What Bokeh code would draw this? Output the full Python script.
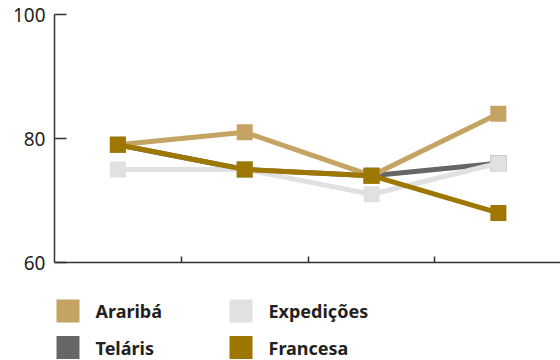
from bokeh.plotting import figure
from bokeh.layouts import column
from bokeh.models import Range1d, FixedTicker, ColumnDataSource
from bokeh.core.properties import value
from bokeh.embed import file_html
from bokeh.resources import INLINE

# ---- data ----
positions = [1, 2, 3, 4]
series_names = ["Araribá", "Expedições", "Teláris", "Francesa"]
arariba = [79, 81, 74, 84]
expedicoes = [75, 75, 71, 76]
telaris = [79, 75, 74, 76]
francesa = [79, 75, 74, 68]
y_ticks = [60, 80, 100]

colors = {
    "Araribá": "#c5a463",
    "Expedições": "#e0e1e3",
    "Teláris": "#666666",
    "Francesa": "#9e7700",
}
values = {
    "Araribá": arariba,
    "Expedições": expedicoes,
    "Teláris": telaris,
    "Francesa": francesa,
}

TEXT = "#231f20"
FONT = "Noto Sans"

p = figure(width=560, height=274, output_backend="svg", toolbar_location=None,
           x_range=Range1d(0.5, 4.49), y_range=Range1d(60, 100),
           min_border_left=54, min_border_top=14, min_border_bottom=12,
           min_border_right=0)
p.outline_line_color = None
p.xgrid.visible = False
p.ygrid.visible = False
p.background_fill_color = "white"
p.border_fill_color = "white"

# draw order: Teláris, Expedições, Araribá, Francesa
for name in ["Teláris", "Expedições", "Araribá", "Francesa"]:
    src = ColumnDataSource(dict(x=positions, y=values[name]))
    p.line("x", "y", source=src, line_color=colors[name], line_width=5)
    p.scatter("x", "y", source=src, marker="square", size=16,
              fill_color=colors[name], line_color=None)

ya = p.yaxis[0]
ya.ticker = FixedTicker(ticks=y_ticks)
ya.major_tick_in = 12
ya.major_tick_out = 0
ya.minor_tick_line_color = None
ya.axis_line_color = "#333333"
ya.axis_line_width = 1.5
ya.major_tick_line_color = "#333333"
ya.major_tick_line_width = 1.5
ya.major_label_text_font = FONT
ya.major_label_text_font_size = "19px"
ya.major_label_text_color = TEXT
ya.major_label_standoff = 9

xa = p.xaxis[0]
xa.ticker = FixedTicker(ticks=[1.5, 2.5, 3.5])
xa.major_label_overrides = {1.5: "", 2.5: "", 3.5: ""}
xa.major_tick_in = 6
xa.major_tick_out = 0
xa.minor_tick_line_color = None
xa.axis_line_color = "#333333"
xa.axis_line_width = 1.5
xa.major_tick_line_color = "#333333"
xa.major_tick_line_width = 1.5
xa.major_label_text_font_size = "10px"
xa.major_label_standoff = 0

# ---- legend panel (frame aligned with the chart's frame: x in page pixels 54..560) ----
lg = figure(width=560, height=86, output_backend="svg", toolbar_location=None,
            x_range=Range1d(54, 560), y_range=Range1d(86, 0),
            x_axis_location=None, y_axis_location=None,
            min_border=0, min_border_left=54, min_border_right=0,
            min_border_top=0, min_border_bottom=0)
lg.xgrid.visible = False
lg.ygrid.visible = False
lg.outline_line_color = None

leg_sq_x = [67.5, 240.5, 67.5, 240.5]
leg_sq_y = [36.5, 36.5, 73, 73]
leg_tx_x = [95, 268, 95, 268]
leg_src = ColumnDataSource(dict(
    sx=leg_sq_x, sy=leg_sq_y, tx=leg_tx_x, ty=leg_sq_y,
    label=series_names, color=[colors[n] for n in series_names]))
lg.rect("sx", "sy", width=23, height=23, width_units="screen",
        height_units="screen", source=leg_src, fill_color="color", line_color=None)
lg.text("tx", "ty", text="label", source=leg_src, text_font=value(FONT),
        text_font_style="bold", text_font_size="18px", text_color=TEXT,
        text_baseline="middle", text_align="left")

layout = column(p, lg, spacing=0)
open("out.html", "w").write(file_html(layout, INLINE))
